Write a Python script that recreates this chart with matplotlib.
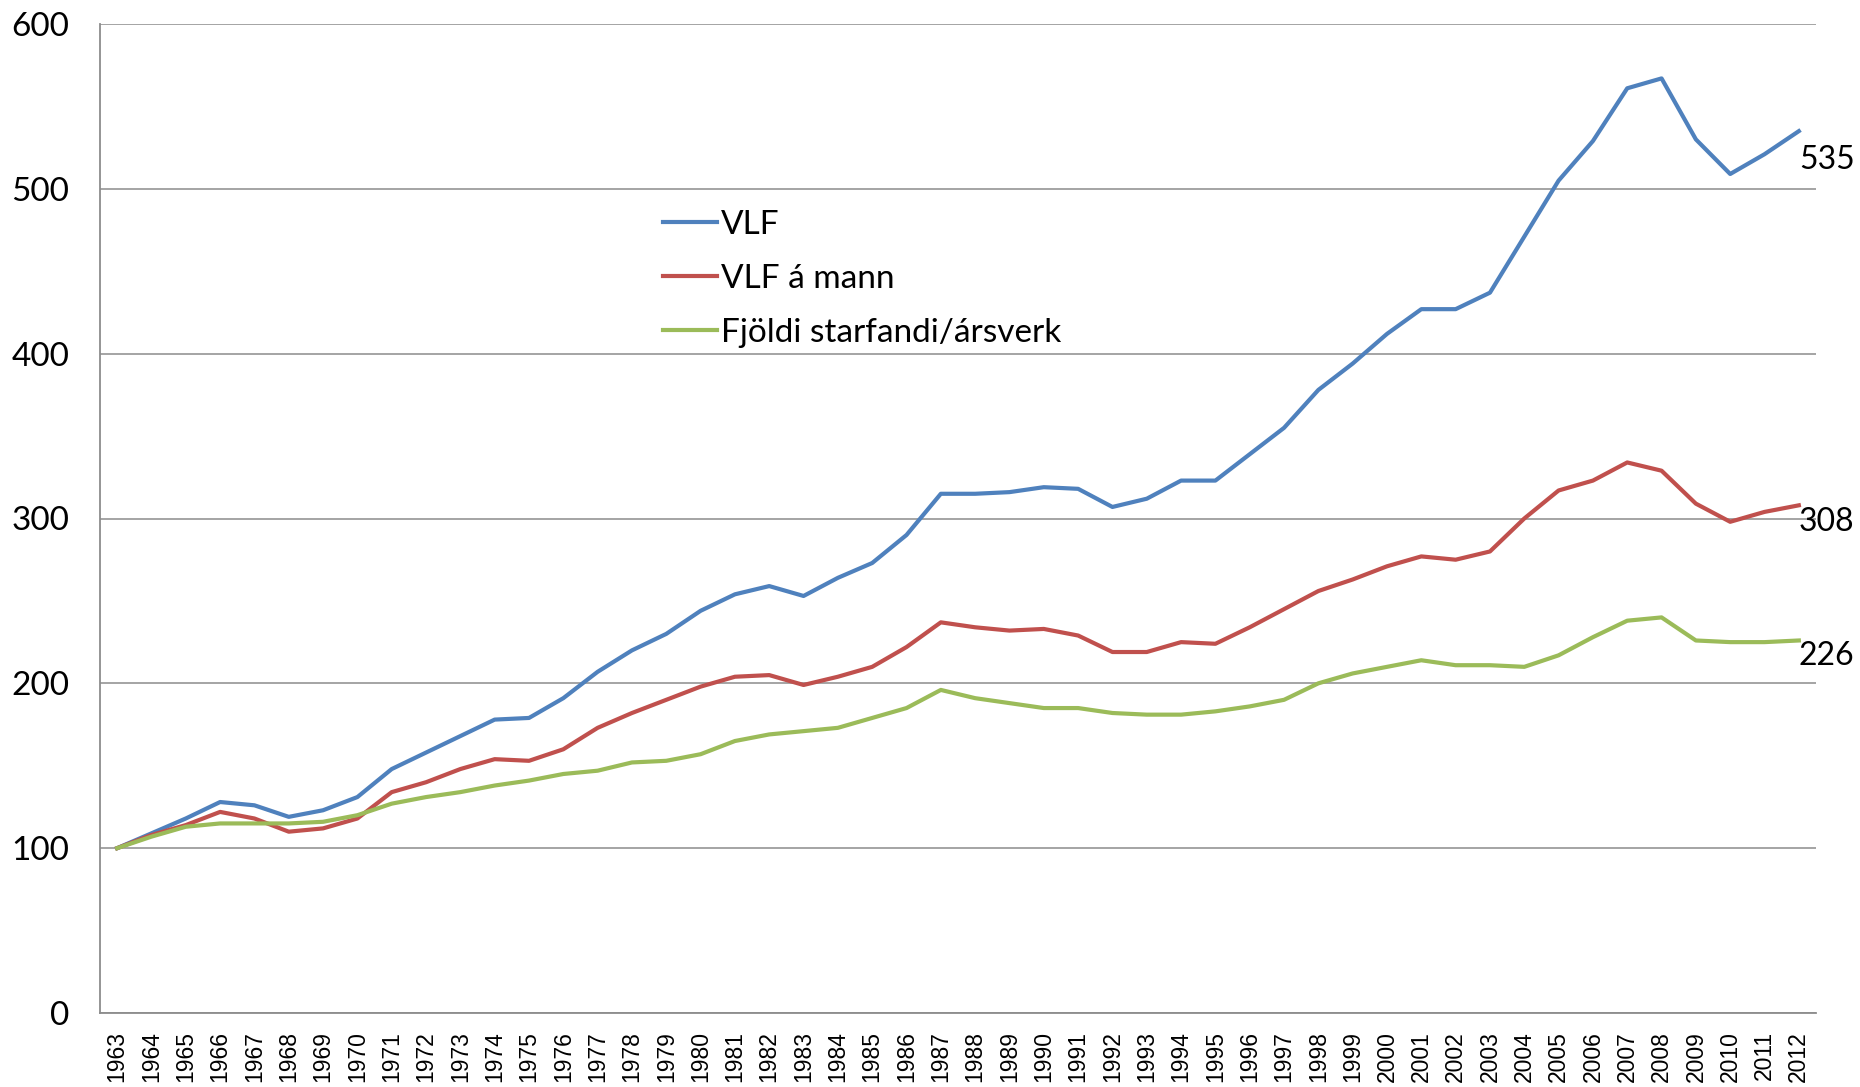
import matplotlib
matplotlib.use("Agg")
import matplotlib.pyplot as plt

years = [str(y) for y in range(1963, 2013)]

vlf = [100, 109, 118, 128, 126, 119, 123, 131, 148, 158,
       168, 178, 179, 191, 207, 220, 230, 244, 254, 259,
       253, 264, 273, 290, 315, 315, 316, 319, 318, 307,
       312, 323, 323, 339, 355, 378, 394, 412, 427, 427,
       437, 471, 505, 529, 561, 567, 530, 509, 521, 535]

vlf_a_mann = [100, 108, 114, 122, 118, 110, 112, 118, 134, 140,
              148, 154, 153, 160, 173, 182, 190, 198, 204, 205,
              199, 204, 210, 222, 237, 234, 232, 233, 229, 219,
              219, 225, 224, 234, 245, 256, 263, 271, 277, 275,
              280, 300, 317, 323, 334, 329, 309, 298, 304, 308]

fjoldi = [100, 107, 113, 115, 115, 115, 116, 120, 127, 131,
          134, 138, 141, 145, 147, 152, 153, 157, 165, 169,
          171, 173, 179, 185, 196, 191, 188, 185, 185, 182,
          181, 181, 183, 186, 190, 200, 206, 210, 214, 211,
          211, 210, 217, 228, 238, 240, 226, 225, 225, 226]

series_names = ["VLF", "VLF á mann", "Fjöldi starfandi/ársverk"]
yticks = [0, 100, 200, 300, 400, 500, 600]

W, H = 1860, 1087
fig = plt.figure(figsize=(W / 100, H / 100), dpi=100)
ax = fig.add_axes([100 / W, 74 / H, (1816 - 100) / W, (1063 - 74) / H])

x = list(range(len(years)))
colors = ["#4F81BD", "#C0504D", "#9BBB59"]
for vals, name, c in zip([vlf, vlf_a_mann, fjoldi], series_names, colors):
    ax.plot(x, vals, color=c, lw=3.0, label=name, solid_joinstyle="round", zorder=3)

ax.set_xlim(-0.5, len(years) - 0.5)
ax.set_ylim(0, 600)
ax.set_yticks(yticks)
ax.set_yticklabels([str(v) for v in yticks], fontsize=24, family=["Lato", "DejaVu Sans"])
ax.set_xticks(x)
ax.set_xticklabels(years, rotation=90, fontsize=16.5, fontstretch="condensed",
                   family=["Liberation Sans Narrow", "Liberation Sans", "DejaVu Sans"])
ax.tick_params(axis="y", length=0, pad=22)
ax.tick_params(axis="x", length=0, pad=13)
ax.yaxis.grid(True, color="#8c8c8c", lw=1.1)
ax.set_axisbelow(True)
for s in ["top", "right"]:
    ax.spines[s].set_visible(False)
for s in ["left", "bottom"]:
    ax.spines[s].set_color("#8c8c8c")
    ax.spines[s].set_linewidth(1.3)

# end labels
ends = [vlf[-1], vlf_a_mann[-1], fjoldi[-1]]
offs = [-14, -2, -1]
for v, o in zip(ends, offs):
    ax.annotate(str(v), xy=(x[-1], v), xytext=(0, o), textcoords="offset pixels",
                ha="left", va="top", fontsize=23, family=["Lato", "DejaVu Sans"],
                annotation_clip=False)

leg = ax.legend(loc="upper left", bbox_to_anchor=(663 / W, 1 - 210 / H),
                bbox_transform=fig.transFigure, frameon=False,
                prop={"family": "Lato", "size": 24},
                handlelength=1.62, handletextpad=0.12, labelspacing=0.72,
                borderpad=0, borderaxespad=0)

fig.savefig("out.png", dpi=100, facecolor="white")
